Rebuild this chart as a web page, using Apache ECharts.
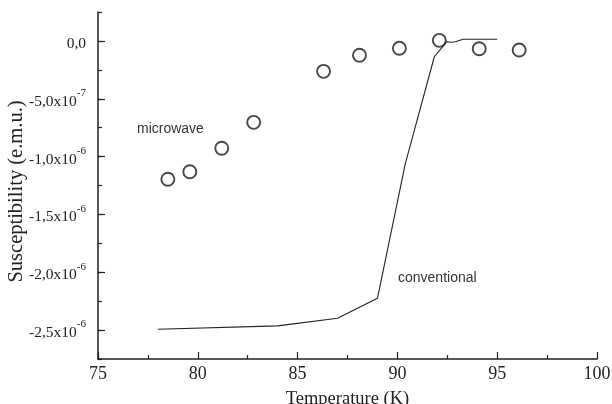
<!DOCTYPE html>
<html>
<head>
<meta charset="utf-8">
<script src="https://cdn.jsdelivr.net/npm/echarts@6/dist/echarts.min.js"></script>
<style>
  html, body { margin: 0; padding: 0; background: #fff; }
  #chart { width: 612px; height: 404px; }
</style>
</head>
<body>
<div id="chart"></div>
<script>
// Microwave-processed sample: susceptibility measured point by point (K, e.m.u.)
const microwaveT = [78.5, 79.6, 81.2, 82.8, 86.3, 88.1, 90.1, 92.1, 94.1, 96.1];
const microwaveChi = [-1.196e-6, -1.131e-6, -0.928e-6, -0.704e-6, -0.263e-6, -0.124e-6, -0.064e-6, 0.005e-6, -0.068e-6, -0.079e-6];

// Conventionally processed sample: continuous transition curve
const conventionalT = [78.0, 84.0, 87.0, 89.0, 90.4, 91.85, 92.2, 92.47, 92.7, 92.9, 93.3, 95.0];
const conventionalChi = [-2.493e-6, -2.464e-6, -2.398e-6, -2.225e-6, -1.058e-6, -0.137e-6, -0.064e-6, -0.007e-6, -0.012e-6, -0.007e-6, 0.014e-6, 0.014e-6];

// Axis ticks and their printed labels
const xTicks = [75, 80, 85, 90, 95, 100];
const yTickValues = [0, -0.5e-6, -1.0e-6, -1.5e-6, -2.0e-6, -2.5e-6];
const yTickMantissa = ['0,0', '-5,0', '-1,0', '-1,5', '-2,0', '-2,5'];
const yTickExponent = ['', '-7', '-6', '-6', '-6', '-6'];

const ink = '#222';
const serif = '"Liberation Serif", "DejaVu Serif", serif';
const sans = '"Liberation Sans", Arial, sans-serif';

function yLabel(v) {
  for (let i = 0; i < yTickValues.length; i++) {
    if (Math.abs(v - yTickValues[i]) < 1e-12) {
      if (!yTickExponent[i]) return '{m|' + yTickMantissa[i] + '}';
      return '{m|' + yTickMantissa[i] + 'x10}{s|' + yTickExponent[i] + '}';
    }
  }
  return '';
}

const chart = echarts.init(document.getElementById('chart'), null, { renderer: 'canvas' });

const grid = { left: 98, top: 12, right: 15, bottom: 45, containLabel: false, outerBoundsMode: 'none' };
const yMin = -2.75e-6, yMax = 0.25e-6;

chart.setOption({
  animation: false,
  backgroundColor: '#fff',
  grid: grid,
  xAxis: {
    type: 'value',
    min: 75, max: 100, interval: 5,
    axisLine: { show: true, onZero: false, lineStyle: { color: ink, width: 1.5 } },
    axisTick: { show: true, inside: true, length: 7, lineStyle: { color: ink, width: 1.2 } },
    minorTick: { show: true, splitNumber: 2, length: 4, lineStyle: { color: ink, width: 1.2 } },
    splitLine: { show: false },
    axisLabel: {
      color: ink, fontFamily: serif, fontSize: 18, margin: 6,
      formatter: function (v) { return xTicks.indexOf(v) >= 0 ? String(v) : ''; }
    },
    name: 'Temperature (K)',
    nameLocation: 'middle',
    nameGap: 31,
    nameTextStyle: { color: ink, fontFamily: serif, fontSize: 18.5 }
  },
  yAxis: [
    {
      type: 'value',
      min: yMin, max: yMax, interval: 0.25e-6,
      position: 'left',
      axisLine: { show: true, onZero: false, lineStyle: { color: ink, width: 1.5 } },
      axisTick: { show: true, inside: true, length: 7, customValues: yTickValues, lineStyle: { color: ink, width: 1.2 } },
      splitLine: { show: false },
      axisLabel: {
        customValues: yTickValues,
        margin: 12,
        formatter: yLabel,
        rich: {
          m: { color: ink, fontFamily: serif, fontSize: 15.5, lineHeight: 22, verticalAlign: 'bottom' },
          s: { color: ink, fontFamily: serif, fontSize: 11, lineHeight: 22, verticalAlign: 'top' }
        }
      },
      name: 'Susceptibility (e.m.u.)',
      nameLocation: 'middle',
      nameRotate: 90,
      nameGap: 71,
      nameMoveOverlap: false,
      nameTextStyle: { color: ink, fontFamily: serif, fontSize: 20.5, padding: [0, 12, 0, 0] }
    },
    {
      // short ticks at every quarter step
      type: 'value',
      min: yMin, max: yMax, interval: 0.25e-6,
      position: 'left',
      offset: 0,
      axisLine: { show: false, onZero: false },
      axisTick: { show: true, inside: true, length: 4, lineStyle: { color: ink, width: 1.2 } },
      axisLabel: { show: false },
      splitLine: { show: false }
    }
  ],
  series: [
    {
      name: 'conventional',
      type: 'line',
      data: conventionalT.map((t, i) => [t, conventionalChi[i]]),
      showSymbol: false,
      symbol: 'none',
      lineStyle: { color: ink, width: 1.1 },
      z: 2
    },
    {
      name: 'microwave',
      type: 'scatter',
      data: microwaveT.map((t, i) => [t, microwaveChi[i]]),
      symbol: 'circle',
      symbolSize: 13,
      itemStyle: { color: 'rgba(255,255,255,0)', borderColor: '#1a1a1a', borderWidth: 1.9 },
      z: 3
    }
  ],
  graphic: [
    {
      type: 'text', left: 137, top: 122,
      style: { text: 'microwave', fill: '#333', font: '14px ' + sans }
    },
    {
      type: 'text', left: 398, top: 271,
      style: { text: 'conventional', fill: '#333', font: '14px ' + sans }
    }
  ]
});
</script>
</body>
</html>
